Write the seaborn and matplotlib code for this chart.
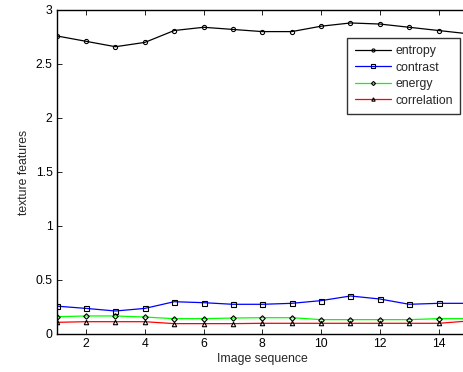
import numpy as np
import pandas as pd
import matplotlib
matplotlib.use("Agg")
import matplotlib.pyplot as plt
import seaborn as sns

x = list(range(1, 16))
entropy = [2.76, 2.71, 2.66, 2.70, 2.81, 2.84, 2.82, 2.80, 2.80, 2.85, 2.88, 2.87, 2.84, 2.81, 2.78]
contrast = [0.258, 0.237, 0.213, 0.237, 0.299, 0.290, 0.275, 0.275, 0.284, 0.309, 0.352, 0.324, 0.275, 0.284, 0.284]
energy = [0.160, 0.167, 0.167, 0.157, 0.142, 0.142, 0.148, 0.151, 0.151, 0.133, 0.133, 0.133, 0.133, 0.142, 0.142]
correlation = [0.108, 0.114, 0.114, 0.114, 0.096, 0.096, 0.096, 0.099, 0.099, 0.099, 0.099, 0.099, 0.099, 0.099, 0.12]
names = ["entropy", "contrast", "energy", "correlation"]
colors = ["black", "blue", "#00ff00", "red"]
markers = ["o", "s", "D", "^"]
msizes = [3.0, 3.6, 2.8, 3.2]
xticks = [2, 4, 6, 8, 10, 12, 14]
yticks = [0, 0.5, 1, 1.5, 2, 2.5, 3]
yticklabels = ["0", "0.5", "1", "1.5", "2", "2.5", "3"]

sns.set_style("ticks")
plt.rcParams["font.family"] = ["Liberation Sans", "DejaVu Sans"]

W, H = 464, 372
fig = plt.figure(figsize=(W / 100, H / 100), dpi=100)
ax = fig.add_axes([56.7 / W, (H - 334) / H, (468 - 56.7) / W, 324 / H])

series = [entropy, contrast, energy, correlation]
for name, vals, c, m, ms in zip(names, series, colors, markers, msizes):
    df = pd.DataFrame({"x": x, "y": vals})
    sns.lineplot(data=df, x="x", y="y", ax=ax, color=c, marker=m, markersize=ms,
                 markeredgecolor="black", markerfacecolor="none", markeredgewidth=0.8,
                 linewidth=0.9, label=name)

ax.set_xlim(1, 15)
ax.set_ylim(0, 3)
ax.set_xticks(xticks)
ax.set_xticklabels([str(t) for t in xticks])
ax.set_yticks(yticks)
ax.set_yticklabels(yticklabels)
ax.tick_params(direction="in", length=3.5, width=0.6, top=True, right=True,
               labelsize=8.8, colors="black", pad=3)
for s in ax.spines.values():
    s.set_linewidth(1.0)
    s.set_color("black")
ax.set_xlabel("Image sequence", fontsize=8.8, labelpad=2)
ax.set_ylabel("texture features", fontsize=8.8, labelpad=4)

leg = ax.legend(loc="upper right", bbox_to_anchor=((460.5 - 56.7) / (468 - 56.7), (334 - 37.7) / 324),
                fontsize=8.8, frameon=True, fancybox=False, handlelength=2.95,
                borderpad=0.6, labelspacing=0.37, handletextpad=0.4, borderaxespad=0,
                markerscale=0.75)
leg.get_frame().set_edgecolor("black")
leg.get_frame().set_linewidth(1.0)

fig.savefig("out.png", dpi=100)
